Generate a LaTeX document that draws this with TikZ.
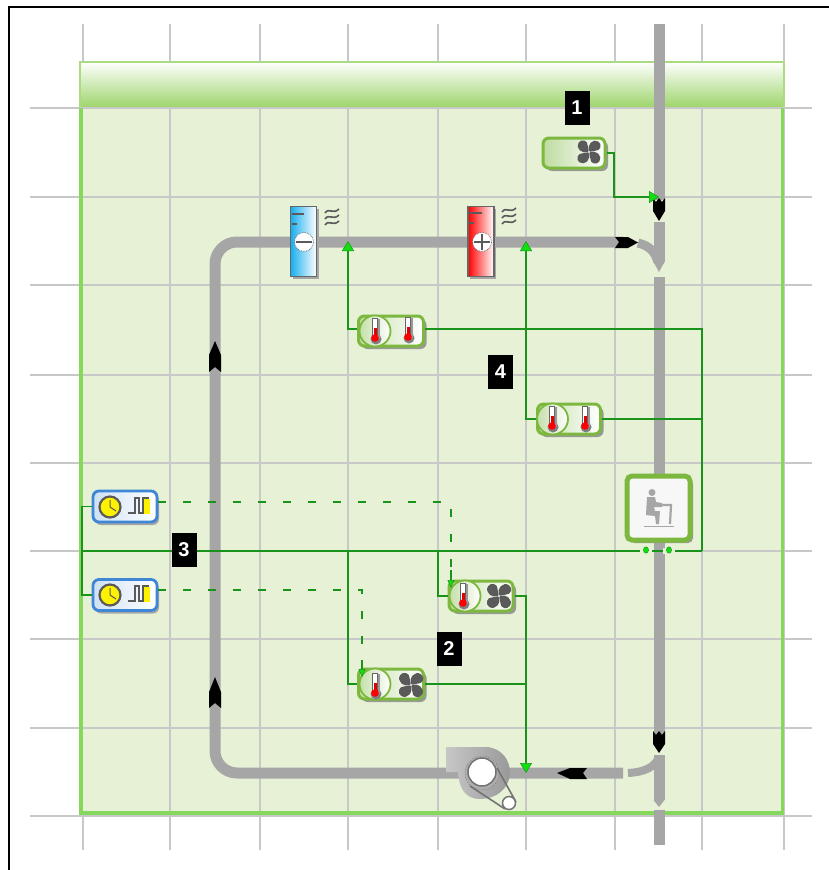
\documentclass[tikz,border=0pt]{standalone}
\usepackage{fontspec}
\setmainfont{Liberation Sans}
\usetikzlibrary{shadows,arrows.meta,calc}
\definecolor{duct}{HTML}{A6A6A6}
\definecolor{gridc}{HTML}{C8C8C8}
\definecolor{wire}{HTML}{1A931A}
\definecolor{panelbg}{HTML}{E6F1D6}
\definecolor{panelln}{HTML}{86D85C}
\definecolor{headg}{HTML}{9CD468}
\definecolor{boxg}{HTML}{7CB83E}
\definecolor{boxb}{HTML}{3E86D6}
\definecolor{arrg}{HTML}{10E010}
\definecolor{icon}{HTML}{5A5A5A}
\definecolor{coolc}{HTML}{18AEEF}
\tikzset{
  gridline/.style={draw=gridc,line width=1.5pt},
  ductline/.style={draw=duct,line width=11pt},
  wireline/.style={draw=wire,line width=1.3pt},
  dashline/.style={draw=wire,line width=1.3pt,dash pattern=on 8pt off 17pt},
  tip/.style={-{Triangle[length=10pt,width=12pt,fill=arrg,color=wire,line width=0.5pt]}},
  smalltip/.style={-{Triangle[length=8pt,width=7pt,fill=arrg,color=wire,line width=0.5pt]}},
  ctrlbox/.style={rounded corners=6pt,line width=3pt,draw=boxg,left color=boxg!45!white,right color=white,
    minimum height=30pt,inner sep=0pt,
    drop shadow={shadow xshift=3pt,shadow yshift=-3pt,fill=black!40,opacity=1}},
  clockbox/.style={rounded corners=6pt,line width=2.8pt,draw=boxb,left color=boxb!25!white,right color=white,
    minimum width=64pt,minimum height=31pt,inner sep=0pt,
    drop shadow={shadow xshift=2pt,shadow yshift=-3pt,fill=black!35,opacity=1}},
  coil/.style={draw=black!60,line width=1.3pt,minimum width=26pt,minimum height=70pt,inner sep=0pt,
    drop shadow={shadow xshift=2pt,shadow yshift=-2pt,fill=black!35,opacity=1}},
  numtag/.style={fill=black,text=white,font=\bfseries\fontsize{20}{20}\selectfont,minimum width=25pt,minimum height=34pt,inner sep=0pt},
  ductarrow/.style={fill=black,draw=none},
}
% thermometer at (x,y)
\newcommand{\thermo}[2]{%
  \fill[black!50] (#1+1,#2+9) circle (5.5);
  \fill[black!40] (#1-1,#2-11) rectangle (#1+5,#2+9);
  \fill[white,draw=black!60,line width=0.8pt] (#1-2.5,#2-12) rectangle (#1+2.5,#2+7);
  \fill[red!90!black] (#1-1.5,#2-2) rectangle (#1+1.5,#2+8);
  \fill[red] (#1,#2+8) circle (3.8);
}
% fan at (x,y) with radius r: four full lobes
\newcommand{\fanicon}[3]{%
  \begin{scope}[shift={(#1,#2)}]
  \foreach \a in {0,90,180,270}{
    \begin{scope}[rotate=\a]
    \fill[icon] (0,0) .. controls (-0.2*#3,-0.7*#3) and (0.35*#3,-1.25*#3) .. (0.85*#3,-0.95*#3) .. controls (1.25*#3,-0.7*#3) and (1.05*#3,-0.1*#3) .. (0.6*#3,-0.12*#3) .. controls (0.35*#3,-0.12*#3) and (0.15*#3,-0.05*#3) .. (0,0);
    \end{scope}
  }
  \fill[white] (0,0) circle (#3*0.1);
  \end{scope}
}
% wave symbol
\newcommand{\waves}[2]{%
  \foreach \dy in {-6,0,6}{
    \draw[icon,line width=1.6pt] (#1-7,#2+\dy+2) .. controls (#1-3,#2+\dy-4) and (#1+1,#2+\dy+4) .. (#1+7,#2+\dy-2);
  }
}
% clock icon
\newcommand{\clockicon}[2]{%
  \fill[yellow,draw=icon,line width=2.2pt] (#1,#2) circle (10.5);
  \draw[icon,line width=1pt] (#1,#2-7) -- (#1,#2) -- (#1+6,#2+4);
  \fill[yellow] (#1+34,#2-8) rectangle (#1+40,#2+7);
  \draw[icon,line width=2.6pt] (#1+18,#2+6) -- (#1+25,#2+6) -- (#1+25,#2-9) -- (#1+29,#2-9) -- (#1+29,#2+6) -- (#1+33,#2+6) -- (#1+33,#2-9) -- (#1+39,#2-9);
}
\begin{document}
\begin{tikzpicture}[x=1pt,y=-1pt]
\useasboundingbox (0,0) rectangle (829,870);
\fill[white] (0,0) rectangle (829,870);
% outer frame
\draw[black,line width=2pt] (9,871) -- (9,7) -- (830,7);
% panel
\fill[panelbg] (80,108) rectangle (784,814);
\shade[top color=white,bottom color=headg,middle color=headg!50!white] (80,62) rectangle (784,108);
\draw[headg!85!white,line width=1.2pt] (80,108) -- (80,62) -- (784,62) -- (784,108);
% grid
\draw[gridline] (83,24) -- (83,62) (83,814) -- (83,850);
\foreach \gx in {170,260,348,438,526,615,702,784}{
  \draw[gridline] (\gx,24) -- (\gx,62);
  \draw[gridline] (\gx,108) -- (\gx,850);
}
\foreach \gy in {108,197,285,375,463,551,639,728,816}{
  \draw[gridline] (30,\gy) -- (812,\gy);
}
\draw[panelln,line width=4.5pt] (81,108) -- (81,813);
\draw[panelln,line width=4pt] (79,813) -- (784,813);
\draw[panelln,line width=3pt] (782.5,108) -- (782.5,814);
% ducts
\draw[ductline,rounded corners=22pt] (623,242) -- (215,242) -- (215,773) -- (623,773);
\draw[ductline] (659,24) -- (659,200);
\draw[ductline] (659,222) -- (659,262);
\fill[duct] (653.5,262) -- (664.5,262) -- (659,272) -- cycle;
\draw[duct,line width=9pt] (638,243) .. controls (650,246) and (655,252) .. (658,262);
\draw[ductline] (659,277) -- (659,738);
\draw[ductline] (659,755) -- (659,800);
\fill[duct] (653.5,800) -- (664.5,800) -- (659,807) -- cycle;
\draw[duct,line width=8pt] (628,773) .. controls (645,772) and (655,767) .. (659,757);
\draw[ductline] (659,810) -- (659,845);
% duct direction arrows
\fill[ductarrow] (653,198) -- (656,202) -- (659,198) -- (662,202) -- (665,198) -- (665,211) -- (659,221) -- (653,211) -- cycle;
\fill[ductarrow] (653,731) -- (656,735) -- (659,731) -- (662,735) -- (665,731) -- (665,744) -- (659,753) -- (653,744) -- cycle;
\fill[ductarrow] (615,237) -- (619,242) -- (615,248) -- (628,248) -- (638,242.5) -- (628,237) -- cycle;
\fill[ductarrow] (587,768) -- (583,773) -- (587,779) -- (570,779) -- (557,773) -- (570,768) -- cycle;
\fill[ductarrow] (209,372) -- (215,367) -- (221,372) -- (221,355) -- (215,341) -- (209,355) -- cycle;
\fill[ductarrow] (209,708) -- (215,703) -- (221,708) -- (221,692) -- (215,677) -- (209,692) -- cycle;
% coils
\node[coil,left color=coolc,right color=white] (cool) at (303.5,241.5) {};
\node[coil,left color=red,right color=white] (heat) at (481,241.5) {};
\draw[icon,line width=1.2pt] (292,214) -- (304,214) (292,224) -- (297,224);
\draw[icon,line width=1.2pt] (469,213) -- (482,213) (469,223) -- (474,223);
\filldraw[fill=white,draw=icon,densely dotted,line width=0.7pt] (304,242) circle (9.5);
\draw[icon,line width=1.4pt] (296,242) -- (312,242);
\filldraw[fill=white,draw=icon,densely dotted,line width=0.7pt] (482,242) circle (9.5);
\draw[icon,line width=1.4pt] (474,242) -- (490,242) (482,234) -- (482,250);
\waves{332}{217}
\waves{509}{216}
% fan unit
\node[ctrlbox,minimum width=62pt,left color=boxg!50!white] (fanbox) at (574,153) {};
\fanicon{589}{152}{11}
% sensors
\node[ctrlbox,minimum width=65pt] (tt1) at (391,331) {};
\node[ctrlbox,minimum width=63pt] (tt2) at (569,419) {};
\node[ctrlbox,minimum width=64pt] (tf1) at (481,596) {};
\node[ctrlbox,minimum width=65pt] (tf2) at (391,684) {};
\foreach \cx/\cy in {375/331,552.5/419,465/596,375/684}{
  \path[left color=boxg!45!white,right color=white,draw=boxg,line width=1.8pt] (\cx,\cy) circle (15.5);
}
\thermo{375}{330}
\thermo{408}{329}
\thermo{552}{418}
\thermo{585}{418}
\thermo{463}{595}
\fanicon{499}{596}{11.5}
\thermo{375}{685}
\fanicon{411}{685}{11.5}
% clocks
\node[clockbox] (ck1) at (125,506.5) {};
\node[clockbox] (ck2) at (125,595) {};
\clockicon{110}{507}
\clockicon{110}{595}
% zone
\node[draw=boxg,line width=5pt,rounded corners=5pt,fill=black!3,minimum width=63pt,minimum height=64pt,inner sep=0pt,
  drop shadow={shadow xshift=3pt,shadow yshift=-3pt,fill=black!40,opacity=1}] (zone) at (658.5,508) {};
\fill[black!35] (652,492.5) circle (3.5);
\fill[black!35] (647,497) -- (655,497) -- (656,502) -- (662,503) -- (662,507) -- (654,507) -- (655,511) -- (660,511) -- (659,524) -- (656,524) -- (655,516) -- (646,515) -- cycle;
\draw[black!35,line width=2.2pt] (660,505) -- (671,505) -- (670,524);
\draw[black!35,line width=1.8pt] (644,526.5) -- (674,526.5);
% coordinates
\coordinate (c1) at (614,197);
\coordinate (inS) at (659,197);
\coordinate (up1) at (348,241);
\coordinate (up2) at (526,241);
\coordinate (busR) at (702,551);
\coordinate (busL) at (82,551);
\coordinate (d1) at (526,773);
\coordinate (dt1) at (451,588);
\coordinate (dt2) at (362,677);
% wires
\draw[wireline,tip] (fanbox.east) -| (c1) -- (inS);
\draw[wireline,tip] ([yshift=2pt]tt1.west) -| (up1);
\draw[wireline,tip] (tt2.west) -| (up2);
\draw[wireline] ([yshift=2pt]tt1.east) -| (busR);
\draw[wireline] (tt2.east) -- (tt2.east -| busR);
\draw[wireline] (busL) -- (busR);
\draw[wireline] (ck1.west) -| (busL) |- (ck2.west);
\draw[wireline] (438,551) |- (tf1.west);
\draw[wireline] (348,551) |- (tf2.west);
\draw[wireline,tip] (tf1.east) -| (d1);
\draw[wireline] (tf2.east) -- (tf2.east -| d1);
\draw[dashline] (ck1.east |- 0,502) -- (451,502) -- (451,570);
\draw[dashline] (ck2.east |- 0,590) -- (362,590) -- (362,660);
\draw[wireline,smalltip] (451,570) -- (dt1);
\draw[wireline,smalltip] (362,660) -- (dt2);
\foreach \dx in {646,669}{
  \fill[panelbg] (\dx-6,548) rectangle (\dx+6,554);
  \filldraw[fill=arrg,draw=wire,line width=0.5pt] (\dx,550) ellipse (2.5 and 3.2);
}
% blower
\path[left color=black!22,right color=black!40] (446,747) -- (488,747) .. controls (502,749) and (510,760) .. (510,773) .. controls (509,790) and (495,799) .. (480,799) .. controls (465,799) and (459,788) .. (458,772) -- (446,772) -- cycle;
\fill[black!32,draw=black!55,dotted,line width=0.7pt] (482,773) circle (17);
\filldraw[fill=white,draw=black!55,line width=1.5pt] (482,772) circle (14);
\draw[black!55,line width=1.6pt] (497,768) -- (516,802) (470,786) -- (505,809);
\filldraw[fill=white,draw=black!55,line width=1.5pt] (509,803) circle (6.5);
% tags
\node[numtag] (n1) at (577,108) {1};
\node[numtag] (n4) at (500.5,372) {4};
\node[numtag] (n3) at (184,549.5) {3};
\node[numtag] (n2) at (449,649) {2};
\end{tikzpicture}
\end{document}
